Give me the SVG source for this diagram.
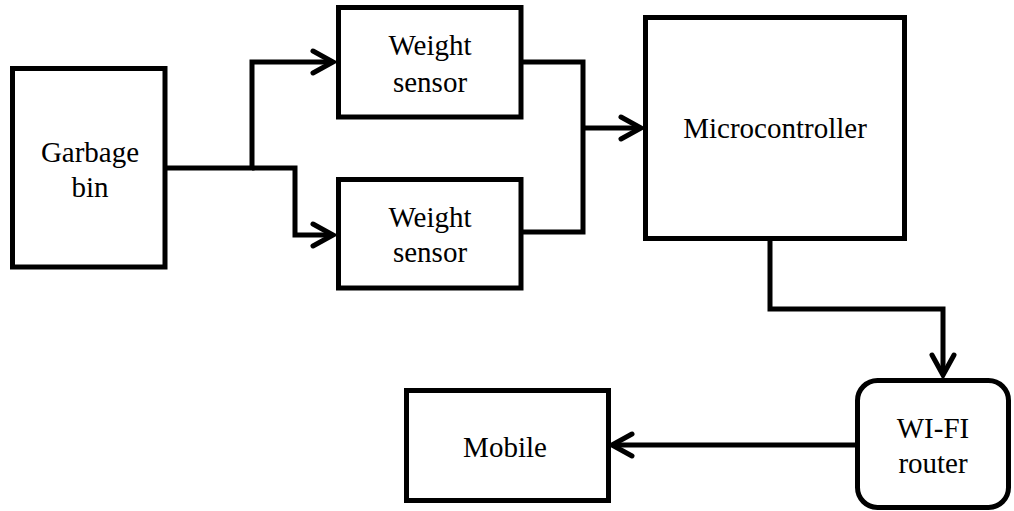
<svg xmlns="http://www.w3.org/2000/svg" width="1014" height="511" viewBox="0 0 1014 511">
<style>
.box{fill:#fff;stroke:#000;stroke-width:5}
.ln{fill:none;stroke:#000;stroke-width:5;stroke-linejoin:miter}
.t{font-family:"Liberation Serif","Times New Roman",serif;font-size:29px;fill:#000;text-anchor:middle}
</style>
<defs>
<marker id="arr" markerUnits="userSpaceOnUse" markerWidth="30" markerHeight="30" viewBox="-24 -15 30 30" refX="0" refY="0" orient="auto">
<path d="M-20,-11 L0,0 L-20,11" fill="none" stroke="#000" stroke-width="5" stroke-linecap="round" stroke-linejoin="miter"/>
</marker>
</defs>
<g id="connectors">
<path class="ln" d="M165,168 H252 V62 H333" marker-end="url(#arr)"/>
<path class="ln" d="M252,168 H295 V235 H333" marker-end="url(#arr)"/>
<path class="ln" d="M521,62 H583 V232 H521"/>
<path class="ln" d="M583,128 H641" marker-end="url(#arr)"/>
<path class="ln" d="M770,239 V309 H943 V375" marker-end="url(#arr)"/>
<path class="ln" d="M856,445 H612" marker-end="url(#arr)"/>
</g>
<g id="garbage-bin">
<rect class="box" x="12.5" y="68.5" width="152.5" height="198.5"/>
<text class="t" x="90" y="162">Garbage</text>
<text class="t" x="90" y="197">bin</text>
</g>
<g id="weight-sensor-1">
<rect class="box" x="338.5" y="7.5" width="182.5" height="109.5"/>
<text class="t" x="430" y="55">Weight</text>
<text class="t" x="430" y="92">sensor</text>
</g>
<g id="weight-sensor-2">
<rect class="box" x="338.5" y="179.5" width="182.5" height="108.5"/>
<text class="t" x="430" y="227">Weight</text>
<text class="t" x="430" y="262">sensor</text>
</g>
<g id="microcontroller">
<rect class="box" x="645.5" y="17.5" width="259" height="221"/>
<text class="t" x="775" y="138">Microcontroller</text>
</g>
<g id="wifi-router">
<rect class="box" x="857.5" y="380.5" width="151" height="127" rx="20" ry="20"/>
<text class="t" x="933" y="438">WI-FI</text>
<text class="t" x="933" y="473">router</text>
</g>
<g id="mobile">
<rect class="box" x="406.5" y="390.5" width="202" height="110"/>
<text class="t" x="505" y="457">Mobile</text>
</g>
</svg>
